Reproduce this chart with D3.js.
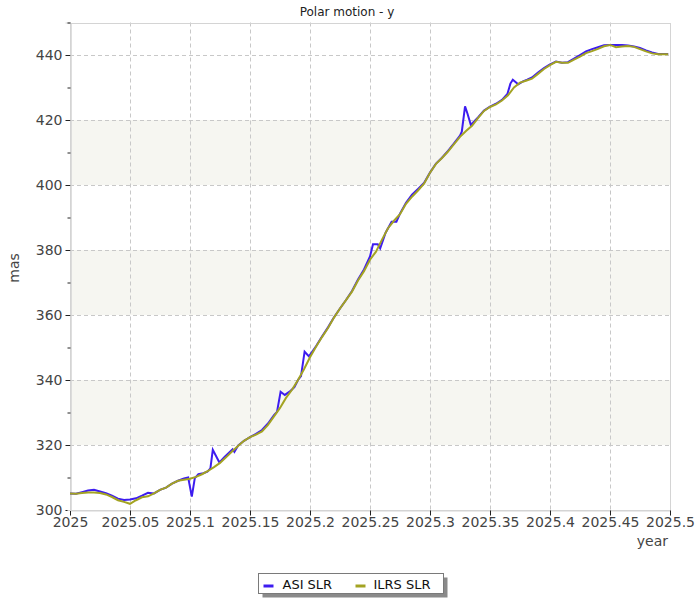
<!DOCTYPE html>
<html>
<head>
<meta charset="utf-8">
<script src="https://cdn.jsdelivr.net/npm/d3@7"></script>
<style>
  body { margin: 0; background: #fff; }
  text { font-family: "DejaVu Sans", sans-serif; }
</style>
</head>
<body>
<div id="main"></div>
<script>
// ILRS SLR, sampled every 0.005 yr
var ilrsT = d3.range(0, 100).map(function(k) { return 2025 + k * 0.005; }).concat([2025.4985]);
var ilrsV = [
  305.1, 305.0, 305.2, 305.4, 305.4, 305.2, 304.8, 304.0, 303.0, 302.5,
  301.9, 303.0, 303.9, 304.2, 305.1, 306.2, 306.9, 308.1, 309.0, 309.3,
  309.6, 310.2, 311.0, 312.0, 313.2, 314.5, 316.2, 318.0, 319.7, 321.3,
  322.4, 323.2, 324.2, 326.2, 328.8, 331.4, 334.5, 337.0, 340.0, 343.3,
  347.0, 350.2, 353.2, 356.0, 359.2, 362.0, 364.6, 367.2, 370.6, 373.5,
  377.0, 379.5, 383.2, 386.7, 389.0, 391.0, 394.2, 396.4, 398.3, 400.4,
  403.8, 406.5, 408.3, 410.3, 412.6, 414.8, 416.6, 418.2, 420.6, 422.8,
  424.0, 424.8, 426.0, 427.6, 430.0, 431.5, 432.1, 432.7, 434.2, 435.7,
  436.9, 437.9, 437.6, 437.6, 438.6, 439.5, 440.6, 441.2, 441.9, 442.7,
  443.1, 442.4, 442.6, 442.8, 442.5, 441.8, 441.1, 440.5, 440.2, 440.2,
  440.2
];

// ASI SLR
var asiT = [
  2025.000, 2025.005, 2025.010, 2025.015, 2025.020, 2025.025, 2025.030, 2025.035, 2025.040, 2025.045,
  2025.050, 2025.055, 2025.060, 2025.065, 2025.070, 2025.075, 2025.080, 2025.085, 2025.090, 2025.095,
  2025.0985, 2025.1015, 2025.104, 2025.107, 2025.111, 2025.1145, 2025.117, 2025.119, 2025.1245, 2025.129,
  2025.1355, 2025.137, 2025.140, 2025.145, 2025.150, 2025.155, 2025.160, 2025.165, 2025.170, 2025.1725,
  2025.1755, 2025.179, 2025.183, 2025.187, 2025.190, 2025.1925, 2025.1955, 2025.199, 2025.2015, 2025.205,
  2025.210, 2025.215, 2025.220, 2025.225, 2025.230, 2025.235, 2025.240, 2025.245, 2025.250, 2025.2525,
  2025.2565, 2025.2585, 2025.263, 2025.268, 2025.272, 2025.275, 2025.280, 2025.285, 2025.290, 2025.295,
  2025.300, 2025.305, 2025.310, 2025.315, 2025.320, 2025.325, 2025.3265, 2025.3292, 2025.3312, 2025.334,
  2025.337, 2025.340, 2025.345, 2025.350, 2025.355, 2025.360, 2025.3645, 2025.367, 2025.369, 2025.3735,
  2025.3775, 2025.381, 2025.385, 2025.390, 2025.395, 2025.400, 2025.405, 2025.410, 2025.415, 2025.420,
  2025.425, 2025.430, 2025.435, 2025.440, 2025.445, 2025.450, 2025.455, 2025.460, 2025.465, 2025.470,
  2025.475, 2025.480, 2025.485, 2025.490, 2025.495, 2025.4985
];
var asiV = [
  305.1, 305.0, 305.5, 306.0, 306.2, 305.7, 305.2, 304.4, 303.5, 303.1,
  303.2, 303.6, 304.4, 305.3, 305.1, 306.2, 306.9, 308.1, 309.0, 309.7,
  310.0, 304.1, 309.8, 311.0, 311.3, 311.8, 312.8, 318.5, 314.6, 316.4,
  318.7, 317.9, 319.8, 321.3, 322.4, 323.4, 324.6, 326.6, 329.2, 330.2,
  336.4, 335.4, 336.4, 337.8, 340.0, 341.2, 348.7, 347.3, 348.5, 350.4,
  353.4, 356.2, 359.3, 362.0, 364.6, 367.4, 370.9, 374.0, 378.0, 381.8,
  381.8, 380.5, 385.3, 388.7, 388.7, 391.2, 394.5, 397.0, 398.8, 400.6,
  403.8, 406.6, 408.4, 410.5, 412.8, 415.2, 416.4, 424.2, 422.0, 418.5,
  419.6, 420.8, 422.9, 424.1, 425.0, 426.2, 428.0, 431.2, 432.4, 431.0,
  431.9, 432.4, 433.1, 434.6, 436.0, 437.1, 438.0, 437.6, 437.8, 438.9,
  440.0, 441.1, 441.8, 442.4, 443.0, 443.1, 443.1, 443.1, 442.9, 442.6,
  442.2, 441.4, 440.8, 440.3, 440.3, 440.3
];

var xTicks = [2025, 2025.05, 2025.1, 2025.15, 2025.2, 2025.25, 2025.3, 2025.35, 2025.4, 2025.45, 2025.5];
var yTicks = [300, 320, 340, 360, 380, 400, 420, 440];
var yMinor = [310, 330, 350, 370, 390, 410, 430, 450];
var bands = [[320, 340], [360, 380], [400, 420]];
var seriesNames = ['ASI SLR', 'ILRS SLR'];
var seriesColors = ['#3d1cf0', '#a3a322'];

var width = 700, height = 600;
var plotLeft = 70, plotRight = 670, plotTop = 22.5, plotBottom = 510;

var x = d3.scaleLinear().domain([2025, 2025.5]).range([plotLeft, plotRight]);
var y = d3.scaleLinear().domain([300, 450]).range([plotBottom, plotTop]);

var svg = d3.select("#main").append("svg")
    .attr("width", width)
    .attr("height", height);

// shaded bands
svg.selectAll(".band").data(bands)
  .enter().append("rect")
    .attr("class", "band")
    .attr("x", plotLeft)
    .attr("width", plotRight - plotLeft)
    .attr("y", function(d) { return y(d[1]); })
    .attr("height", function(d) { return y(d[0]) - y(d[1]); })
    .attr("fill", "#f6f6f1");

// grid
svg.selectAll(".vgrid").data(xTicks.slice(1, -1))
  .enter().append("line")
    .attr("x1", function(d) { return Math.round(x(d)) + 0.5; })
    .attr("x2", function(d) { return Math.round(x(d)) + 0.5; })
    .attr("y1", plotTop).attr("y2", plotBottom)
    .attr("stroke", "#c8c8c8").attr("stroke-dasharray", "4,3");
svg.selectAll(".hgrid").data(yTicks.slice(1))
  .enter().append("line")
    .attr("y1", function(d) { return Math.round(y(d)) + 0.5; })
    .attr("y2", function(d) { return Math.round(y(d)) + 0.5; })
    .attr("x1", plotLeft).attr("x2", plotRight)
    .attr("stroke", "#c8c8c8").attr("stroke-dasharray", "4,3");

// frame
svg.append("rect")
    .attr("x", plotLeft + 0.5).attr("y", Math.round(plotTop) + 0.5)
    .attr("width", plotRight - plotLeft).attr("height", plotBottom - Math.round(plotTop))
    .attr("fill", "none").attr("stroke", "#d4d4d4");

// axes
var xAxis = svg.append("g")
    .attr("transform", "translate(0," + (plotBottom + 0.5) + ")")
    .call(d3.axisBottom(x).tickValues(xTicks).tickSize(5).tickPadding(2)
      .tickFormat(function(d) { return String(+d.toFixed(2)); }));
var yAxis = svg.append("g")
    .attr("transform", "translate(" + (plotLeft + 0.5) + ",0)")
    .call(d3.axisLeft(y).tickValues(yTicks).tickSize(5).tickPadding(3));
var yAxisMinor = svg.append("g")
    .attr("transform", "translate(" + (plotLeft + 0.5) + ",0)")
    .call(d3.axisLeft(y).tickValues(yMinor).tickSize(3).tickFormat(""));

[xAxis, yAxis, yAxisMinor].forEach(function(g) {
  g.select(".domain").attr("stroke", "#d4d4d4");
  g.selectAll(".tick line").attr("stroke", "#222");
  g.selectAll("text").attr("fill", "#444").style("font-size", "14px")
    .style("font-family", '"DejaVu Sans", sans-serif');
});

// lines
var line = d3.line()
  .x(function(d) { return x(d[0]); })
  .y(function(d) { return y(d[1]); });

var asiData = asiT.map(function(t, i) { return [t, asiV[i]]; });
var ilrsData = ilrsT.map(function(t, i) { return [t, ilrsV[i]]; });

svg.append("path").datum(asiData)
    .attr("d", line).attr("fill", "none")
    .attr("stroke", seriesColors[0]).attr("stroke-width", 2);
svg.append("path").datum(ilrsData)
    .attr("d", line).attr("fill", "none")
    .attr("stroke", seriesColors[1]).attr("stroke-width", 2);

// titles
svg.append("text")
    .attr("x", 347).attr("y", 16)
    .attr("text-anchor", "middle")
    .style("font-size", "12px").attr("fill", "#222")
    .text("Polar motion - y");
svg.append("text")
    .attr("transform", "translate(19,268) rotate(-90)")
    .attr("text-anchor", "middle")
    .style("font-size", "14px").attr("fill", "#444")
    .text("mas");
svg.append("text")
    .attr("x", 668).attr("y", 546)
    .attr("text-anchor", "end")
    .style("font-size", "14px").attr("fill", "#444")
    .text("year");

// legend
var lg = svg.append("g").attr("transform", "translate(258.5,573.5)");
lg.append("rect").attr("x", 4).attr("y", 4).attr("width", 185).attr("height", 20).attr("fill", "#8a8a8a");
lg.append("rect").attr("width", 185).attr("height", 20).attr("fill", "#fff").attr("stroke", "#7a7a7a");
var items = [{ dx: 5, tx: 24 }, { dx: 97, tx: 115 }];
items.forEach(function(it, i) {
  lg.append("line")
    .attr("x1", it.dx).attr("x2", it.dx + 10)
    .attr("y1", 12.5).attr("y2", 12.5)
    .attr("stroke", seriesColors[i]).attr("stroke-width", 3);
  lg.append("text")
    .attr("x", it.tx).attr("y", 15)
    .style("font-size", "13px").attr("fill", "#111")
    .text(seriesNames[i]);
});
</script>
</body>
</html>
